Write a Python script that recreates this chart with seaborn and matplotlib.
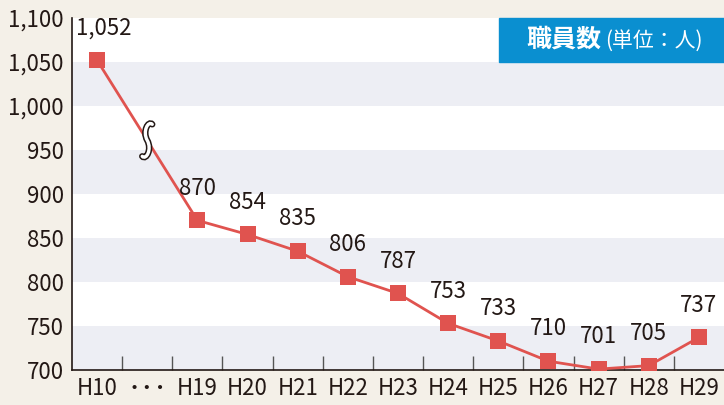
import numpy as np
import pandas as pd
import matplotlib
matplotlib.use("Agg")
import matplotlib.pyplot as plt
import matplotlib.patheffects as pe
from matplotlib.path import Path
from matplotlib.patches import PathPatch, Rectangle
import seaborn as sns

# data
categories = ["H10", "···", "H19", "H20", "H21", "H22", "H23", "H24", "H25", "H26", "H27", "H28", "H29"]
years = ["H10", "H19", "H20", "H21", "H22", "H23", "H24", "H25", "H26", "H27", "H28", "H29"]
staff = [1052, 870, 854, 835, 806, 787, 753, 733, 710, 701, 705, 737]
yticks = [700, 750, 800, 850, 900, 950, 1000, 1050, 1100]

df = pd.DataFrame({"year": years, "staff": staff})
df["pos"] = [categories.index(y) for y in df["year"]]

sns.set_theme(style="white")
plt.rcParams["font.family"] = ["Liberation Sans Narrow", "Noto Sans CJK JP", "DejaVu Sans"]

bg = "#F4F0E8"
red = "#E0534F"
ink = "#231815"
fig = plt.figure(figsize=(7.24, 4.05), dpi=100, facecolor=bg)
ax = fig.add_axes([72 / 724, 35 / 405, 652 / 724, 352 / 405])
ax.set_facecolor("white")

# alternating bands
for lo in yticks[:-1:2]:
    ax.axhspan(lo, lo + 50, color="#EDEEF4", zorder=0, lw=0)

sns.lineplot(data=df, x="pos", y="staff", ax=ax, color=red, lw=2,
             marker="s", markersize=11, markeredgewidth=0, zorder=3)

for i, (x, v) in enumerate(zip(df["pos"], df["staff"])):
    dx = 5 if i == 0 else 0  # first label nudged right, clear of the axis
    ax.annotate(f"{v:,}", (x, v), xytext=(dx, 15), textcoords="offset points",
                ha="center", va="bottom", fontsize=16, color=ink)

# break mark on the connecting line (offsets in pixels -> data units)
bx = 1
by = np.interp(1, [0, 2], [staff[0], staff[1]])
px = [(5, 16), (1, 20), (-5, 9), (0, 0), (5, -9), (-1, -20), (-5, -16)]
verts = [(bx + dx / 50.0, by + dy / 0.88) for dx, dy in px]
codes = [Path.MOVETO] + [Path.CURVE4] * 6
ax.add_patch(PathPatch(Path(verts, codes), fill=False, lw=2.4, edgecolor="white", zorder=4,
                       capstyle="round",
                       path_effects=[pe.Stroke(linewidth=4.6, foreground=ink, capstyle="round"),
                                     pe.Normal()]))

ax.set_xlim(-0.5, 12.5)
ax.set_ylim(700, 1100)
ax.set_xticks(range(len(categories)))
ax.set_xticklabels(categories, fontsize=16, color=ink)
ax.get_xticklabels()[1].set_fontweight("bold")
ax.set_xticks(np.arange(0.5, 12, 1), minor=True)
ax.tick_params(axis="x", which="major", length=0, pad=5)
ax.tick_params(axis="x", which="minor", bottom=True, direction="in", length=10, width=1, color="#555555")
ax.set_yticks(yticks)
ax.set_yticklabels([f"{t:,}" for t in yticks], fontsize=16, color=ink)
ax.tick_params(axis="y", length=0, pad=6)
ax.set_xlabel("")
ax.set_ylabel("")
for s in ["top", "right"]:
    ax.spines[s].set_visible(False)
for s in ["left", "bottom"]:
    ax.spines[s].set_color(ink)
    ax.spines[s].set_linewidth(1.2)

# title box
fig.patches.append(Rectangle((499 / 724, 1 - 62 / 405), 225 / 724, 44 / 405,
                             transform=fig.transFigure, color="#0A8FD0", zorder=5))
fig.text(526 / 724, 1 - 40 / 405, "職員数", fontsize=18, fontweight="bold", color="white",
         va="center", ha="left", family=["Noto Sans CJK JP"], zorder=6)
fig.text(605 / 724, 1 - 41 / 405, "(単位：人)", fontsize=15, color="white",
         va="center", ha="left", family=["Noto Sans CJK JP"], zorder=6)

fig.savefig("out.png", dpi=100, facecolor=bg)
